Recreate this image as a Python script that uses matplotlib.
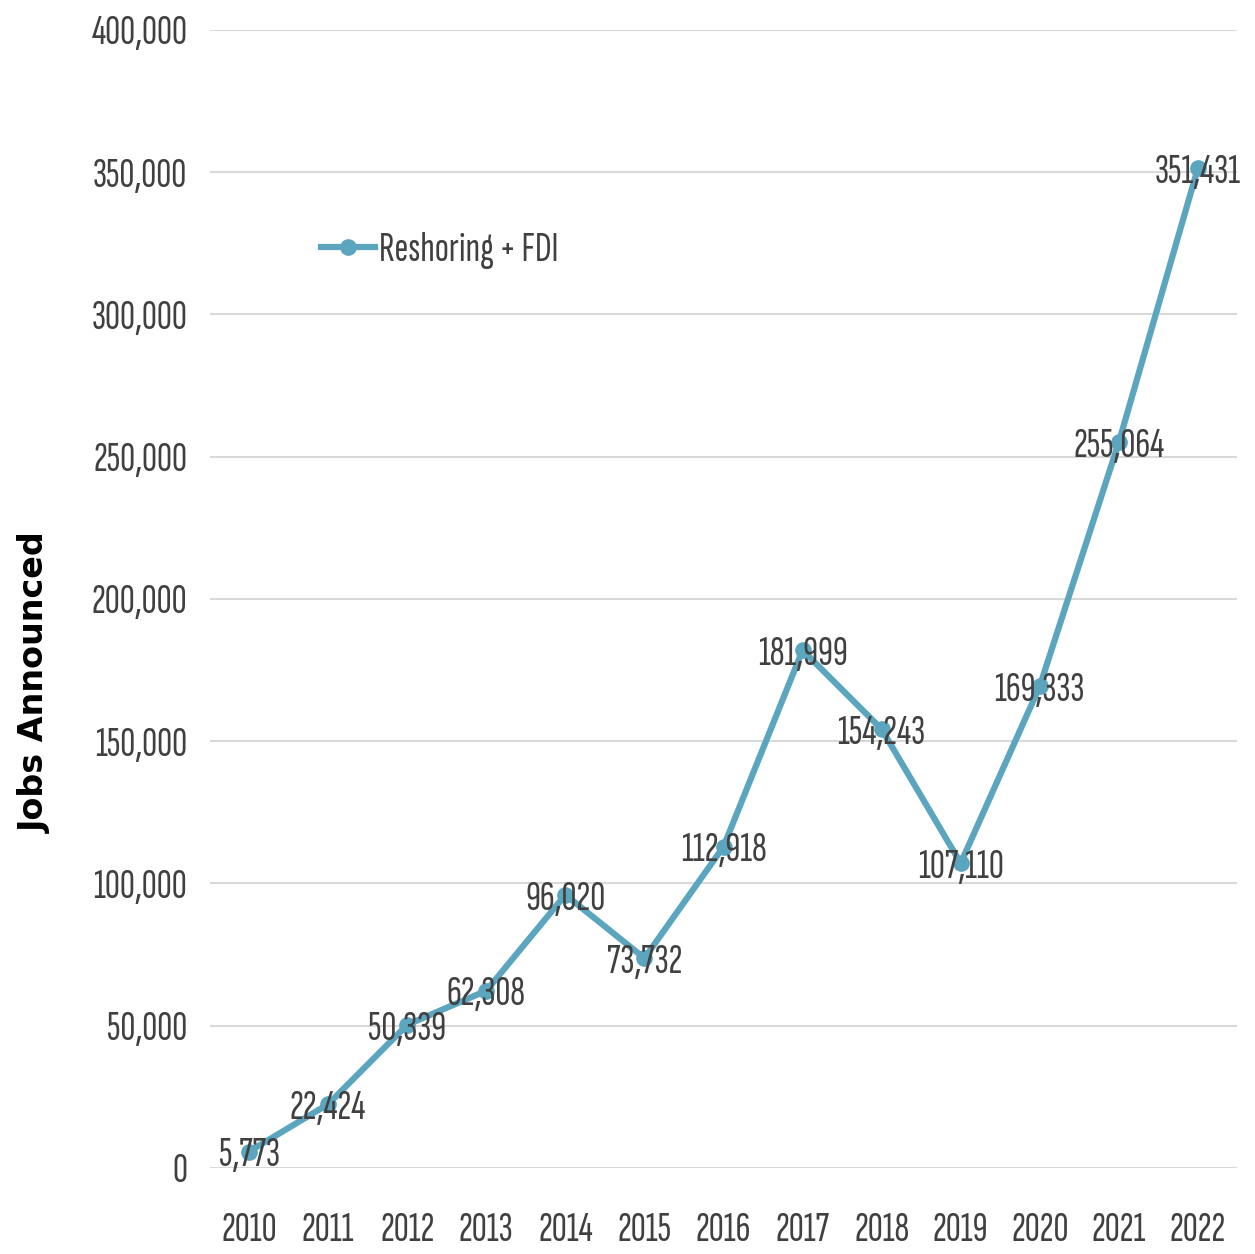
import matplotlib
matplotlib.use("Agg")
import matplotlib.pyplot as plt
from matplotlib.ticker import FuncFormatter

YEARS = [2010, 2011, 2012, 2013, 2014, 2015, 2016, 2017, 2018, 2019, 2020, 2021, 2022]
JOBS = [5773, 22424, 50339, 62308, 96020, 73732, 112918, 181999, 154243, 107110,
        169333, 255064, 351431]
Y_TICKS = [0, 50000, 100000, 150000, 200000, 250000, 300000, 350000, 400000]
SERIES_NAME = "Reshoring + FDI"
Y_LABEL = "Jobs Announced"

LINE_COLOR = "#5ba5bf"
TEXT_COLOR = "#404040"
GRID_COLOR = "#d9d9d9"
NARROW = ["Sofia Sans Extra Condensed", "DejaVu Sans"]
FS = 30
WEIGHT = "bold"

fig = plt.figure(figsize=(12.55, 12.54), dpi=100)
ax = fig.add_axes([0.167, 0.0686, 0.819, 0.9075])

ax.plot(YEARS, JOBS, color=LINE_COLOR, linewidth=4.5, marker="o", markersize=11,
        label=SERIES_NAME, zorder=3)

# data labels sit on top of the line, centred on each point
for x, y in zip(YEARS, JOBS):
    ax.text(x, y - 1500, f"{y:,}", ha="center", va="center", fontsize=FS,
            family=NARROW, fontweight=WEIGHT, color=TEXT_COLOR, zorder=4)

ax.set_xlim(2009.5, 2022.5)
ax.set_ylim(0, 400000)
ax.set_xticks(YEARS)
ax.set_yticks(Y_TICKS)
ax.yaxis.set_major_formatter(FuncFormatter(lambda v, _: f"{int(v):,}"))
ax.tick_params(axis="both", length=0, labelcolor=TEXT_COLOR, labelsize=FS)
ax.tick_params(axis="y", pad=16)
ax.tick_params(axis="x", pad=32)
for lab in ax.get_xticklabels() + ax.get_yticklabels():
    lab.set_family(NARROW)
    lab.set_fontweight(WEIGHT)

for s in ax.spines.values():
    s.set_visible(False)
ax.grid(axis="y", color=GRID_COLOR, linewidth=1.5)
ax.set_axisbelow(True)

fig.text(0.028, 0.456, Y_LABEL, rotation=90, ha="center", va="center",
         fontsize=24, fontweight="bold", color="black")

leg = ax.legend(loc="center left", bbox_to_anchor=(0.072, 0.806), frameon=False,
                handlelength=1.3, handletextpad=0.1,
                prop={"family": NARROW, "size": FS, "weight": WEIGHT})
for t in leg.get_texts():
    t.set_color(TEXT_COLOR)

fig.savefig("out.png")
